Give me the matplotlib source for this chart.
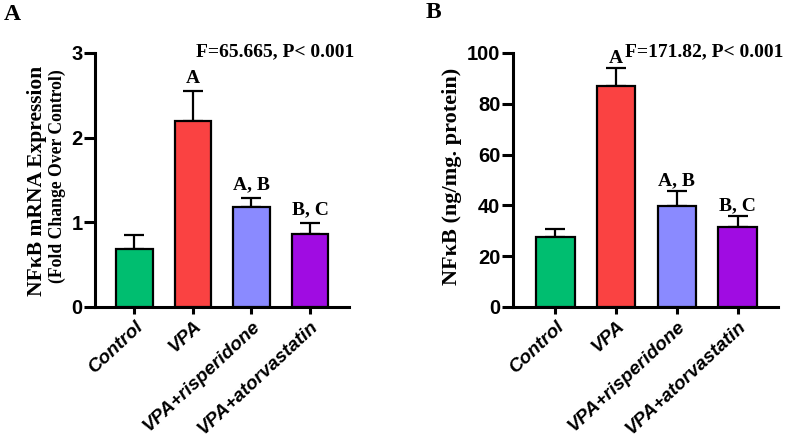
import numpy as np
import matplotlib
matplotlib.use("Agg")
import matplotlib.pyplot as plt

groups = ["Control", "VPA", "VPA+risperidone", "VPA+atorvastatin"]
colors = ["#00BE70", "#FA4242", "#8A8AFF", "#A00CE2"]

# panel A: NFkB mRNA fold change
mrna_mean = [0.68, 2.20, 1.18, 0.86]
mrna_err = [0.17, 0.355, 0.11, 0.135]
mrna_letters = ["", "A", "A, B", "B, C"]

# panel B: NFkB protein (ng/mg protein)
prot_mean = [27.7, 87.0, 39.8, 31.6]
prot_err = [3.0, 7.1, 5.9, 4.3]
prot_letters = ["", "A", "A, B", "B, C"]

W, H = 797, 445
SERIF = "Liberation Serif"
SANS = "Liberation Sans"

fig = plt.figure(figsize=(W / 100, H / 100), dpi=100)


def px_axes(l, r, t, b):
    return fig.add_axes([l / W, 1 - b / H, (r - l) / W, (b - t) / H])


def draw(ax, means, errs, letters, ymax, yticks, xlim, stat, stat_x, letter_pad):
    x = np.arange(len(groups))
    ax.bar(x, means, width=0.63, color=colors, edgecolor="black", linewidth=1.6, zorder=3)
    ax.errorbar(x, means, yerr=[np.zeros(len(errs)), errs], fmt="none", ecolor="black",
                elinewidth=1.6, capsize=7.5, capthick=1.6, zorder=2)
    for xi, m, e, lab in zip(x, means, errs, letters):
        if lab:
            ax.annotate(lab, (xi, m + e), xytext=(0, letter_pad), textcoords="offset points",
                        ha="center", va="bottom", fontsize=14, fontweight="bold", family=SERIF)
    ax.set_xlim(*xlim)
    ax.set_ylim(0, ymax)
    ax.set_yticks(yticks)
    ax.set_xticks(x)
    ax.set_xticklabels(groups, rotation=43, ha="right", va="top", rotation_mode="anchor",
                       fontsize=13.8, fontweight="bold", fontstyle="italic", family=SANS)
    for t in ax.get_yticklabels():
        t.set_fontsize(14.5)
        t.set_fontweight("bold")
        t.set_family(SANS)
    ax.spines["top"].set_visible(False)
    ax.spines["right"].set_visible(False)
    ax.spines["left"].set_linewidth(2.2)
    ax.spines["bottom"].set_linewidth(2.2)
    ax.tick_params(axis="y", length=8, width=2.2, pad=1)
    ax.tick_params(axis="x", length=5, width=2.2, pad=3)
    fig.text(stat_x / W, 1 - 52 / H, stat, ha="right", va="center", fontsize=14,
             fontweight="bold", family=SERIF)


axA = px_axes(95, 349, 53, 307)
draw(axA, mrna_mean, mrna_err, mrna_letters, 3, [0, 1, 2, 3], (-0.675, 3.667),
     "F=65.665, P< 0.001", 354, 3)

axB = px_axes(513, 778, 53, 307)
draw(axB, prot_mean, prot_err, prot_letters, 100, [0, 20, 40, 60, 80, 100], (-0.70, 3.666),
     "F=171.82, P< 0.001", 783, 1)

# axis titles
fig.text(37 / W, 1 - 181 / H, "NFκB mRNA Expression", rotation=90, ha="center", va="center",
         fontsize=15.5, fontweight="bold", family=SERIF)
fig.text(57 / W, 1 - 176 / H, "(Fold Change Over Control)", rotation=90, ha="center", va="center",
         fontsize=12.7, fontweight="bold", family=SERIF)
fig.text(452 / W, 1 - 176 / H, "NFκB (ng/mg. protein)", rotation=90, ha="center", va="center",
         fontsize=16, fontweight="bold", family=SERIF)

# panel letters
fig.text(12 / W, 1 - 14 / H, "A", ha="center", va="center", fontsize=17, fontweight="bold", family=SERIF)
fig.text(433 / W, 1 - 12 / H, "B", ha="center", va="center", fontsize=17, fontweight="bold", family=SERIF)

fig.savefig("out.png", dpi=100)
